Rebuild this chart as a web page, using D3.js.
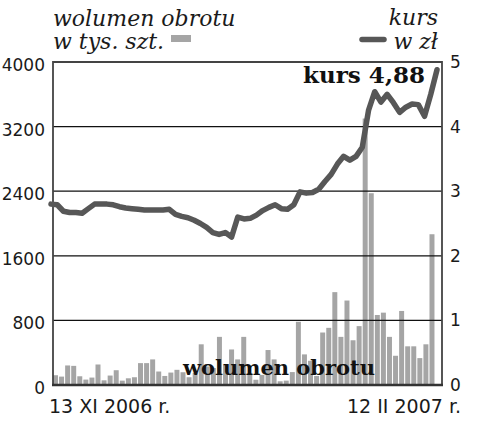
<!DOCTYPE html>
<html>
<head>
<meta charset="utf-8">
<script src="https://cdn.jsdelivr.net/npm/d3@7"></script>
<style>
  body { margin: 0; background: #fff; }
  svg { display: block; }
</style>
</head>
<body>
<svg id="chart" width="500" height="430"></svg>
<script>
// dane
var volumes = [121, 104, 242, 237, 108, 67, 92, 254, 58, 117,
  183, 54, 83, 96, 271, 271, 317, 167, 112, 154,
  188, 158, 96, 150, 504, 230, 210, 596, 250, 440,
  317, 596, 150, 65, 125, 433, 317, 46, 54, 160,
  783, 379, 300, 112, 650, 708, 1150, 596, 1046, 554,
  729, 3300, 2375, 867, 896, 596, 362, 917, 479, 479,
  333, 504, 1867]
var kurs = [2.80, 2.79, 2.69, 2.67, 2.67, 2.66, 2.73, 2.80, 2.80, 2.80,
  2.79, 2.76, 2.74, 2.73, 2.72, 2.71, 2.71, 2.71, 2.71, 2.72,
  2.64, 2.61, 2.59, 2.55, 2.50, 2.44, 2.36, 2.33, 2.36, 2.29,
  2.60, 2.57, 2.58, 2.63, 2.70, 2.75, 2.79, 2.73, 2.72, 2.79,
  2.99, 2.97, 2.98, 3.03, 3.15, 3.26, 3.42, 3.54, 3.48, 3.54,
  3.68, 4.25, 4.54, 4.38, 4.50, 4.37, 4.22, 4.30, 4.35, 4.34,
  4.16, 4.50, 4.88]
var volTicks = [0, 800, 1600, 2400, 3200, 4000]
var kursTicks = [0, 1, 2, 3, 4, 5]
var dateLabels = ['13 XI 2006 r.', '12 II 2007 r.']

var colorBar = '#a5a5a5'
var colorLine = '#575757'
var colorText = '#1a1a1a'

var svg = d3.select('#chart')
var plotLeft = 53, plotRight = 442, plotTop = 62, plotBottom = 385

var x = d3.scaleBand(d3.range(volumes.length), [plotLeft, plotRight])
  .paddingInner(0.18).paddingOuter(0.62).align(0)
var xLine = d3.scalePoint(d3.range(kurs.length), [51, 437])
var yVol = d3.scaleLinear([0, 4000], [plotBottom, plotTop])
var yKurs = d3.scaleLinear([0, 5], [plotBottom, plotTop])

// słupki obrotu
svg.append('g').selectAll('rect')
  .data(volumes)
  .join('rect')
  .attr('x', function(d, i) { return x(i) })
  .attr('y', function(d) { return yVol(d) })
  .attr('width', x.bandwidth())
  .attr('height', function(d) { return yVol(0) - yVol(d) })
  .attr('fill', colorBar)

// linie siatki
svg.append('g').selectAll('line')
  .data(volTicks.slice(1, -1))
  .join('line')
  .attr('x1', plotLeft).attr('x2', plotRight)
  .attr('y1', function(d) { return yVol(d) })
  .attr('y2', function(d) { return yVol(d) })
  .attr('stroke', '#111').attr('stroke-width', 1.2)

// napis na dole
svg.append('text')
  .attr('x', 183).attr('y', 375)
  .attr('font-family', 'DejaVu Serif').attr('font-weight', 'bold')
  .attr('font-size', 20).attr('fill', '#111')
  .attr('textLength', 192).attr('lengthAdjust', 'spacingAndGlyphs')
  .text('wolumen obrotu')

// rama
svg.append('path')
  .attr('d', 'M' + plotLeft + ',' + plotBottom + 'V' + plotTop + 'H' + plotRight + 'V' + plotBottom)
  .attr('fill', 'none').attr('stroke', '#444').attr('stroke-width', 1.8)
svg.append('line')
  .attr('x1', plotLeft - 1).attr('x2', plotRight + 1)
  .attr('y1', plotBottom).attr('y2', plotBottom)
  .attr('stroke', '#333').attr('stroke-width', 2.5)

// kurs
var line = d3.line()
  .x(function(d, i) { return xLine(i) })
  .y(function(d) { return yKurs(d) })
svg.append('path')
  .datum(kurs)
  .attr('d', line)
  .attr('fill', 'none').attr('stroke', colorLine)
  .attr('stroke-width', 5.5)
  .attr('stroke-linejoin', 'round').attr('stroke-linecap', 'round')

// osie
var axisFont = 'DejaVu Sans'
svg.append('g').selectAll('text')
  .data(volTicks)
  .join('text')
  .attr('x', 45)
  .attr('y', function(d) { return yVol(d) + 3 })
  .attr('text-anchor', 'end').attr('dominant-baseline', 'central')
  .attr('font-family', axisFont).attr('font-size', 17).attr('fill', colorText)
  .text(function(d) { return d })

svg.append('g').selectAll('text')
  .data(kursTicks)
  .join('text')
  .attr('x', 450)
  .attr('y', function(d) { return yKurs(d) })
  .attr('dominant-baseline', 'central')
  .attr('font-family', axisFont).attr('font-size', 17).attr('fill', colorText)
  .text(function(d) { return d })

svg.append('text')
  .attr('x', 49).attr('y', 413)
  .attr('font-family', axisFont).attr('font-size', 19).attr('fill', colorText)
  .text(dateLabels[0])
svg.append('text')
  .attr('x', 461).attr('y', 413).attr('text-anchor', 'end')
  .attr('font-family', axisFont).attr('font-size', 19).attr('fill', colorText)
  .text(dateLabels[1])

// legenda
var legendFont = 'DejaVu Serif'
svg.append('text')
  .attr('x', 53).attr('y', 26)
  .attr('font-family', legendFont).attr('font-style', 'italic')
  .attr('font-size', 22).attr('fill', colorText)
  .text('wolumen obrotu')
svg.append('text')
  .attr('x', 53).attr('y', 49)
  .attr('font-family', legendFont).attr('font-style', 'italic')
  .attr('font-size', 22).attr('fill', colorText)
  .text('w tys. szt.')
svg.append('rect')
  .attr('x', 171).attr('y', 35).attr('width', 20).attr('height', 7)
  .attr('fill', colorBar)

svg.append('text')
  .attr('x', 438).attr('y', 25).attr('text-anchor', 'end')
  .attr('font-family', legendFont).attr('font-style', 'italic')
  .attr('font-size', 22).attr('fill', colorText)
  .text('kurs')
svg.append('text')
  .attr('x', 438).attr('y', 49).attr('text-anchor', 'end')
  .attr('font-family', legendFont).attr('font-style', 'italic')
  .attr('font-size', 22).attr('fill', colorText)
  .text('w zł')
svg.append('line')
  .attr('x1', 362).attr('x2', 384).attr('y1', 39.5).attr('y2', 39.5)
  .attr('stroke', colorLine).attr('stroke-width', 5.5).attr('stroke-linecap', 'round')

// ostatni kurs
svg.append('text')
  .attr('x', 303).attr('y', 83)
  .attr('font-family', 'DejaVu Serif').attr('font-weight', 'bold')
  .attr('font-size', 23).attr('fill', '#111')
  .attr('textLength', 122).attr('lengthAdjust', 'spacingAndGlyphs')
  .text('kurs ' + d3.format('.2f')(kurs[kurs.length - 1]).replace('.', ','))
</script>
</body>
</html>
